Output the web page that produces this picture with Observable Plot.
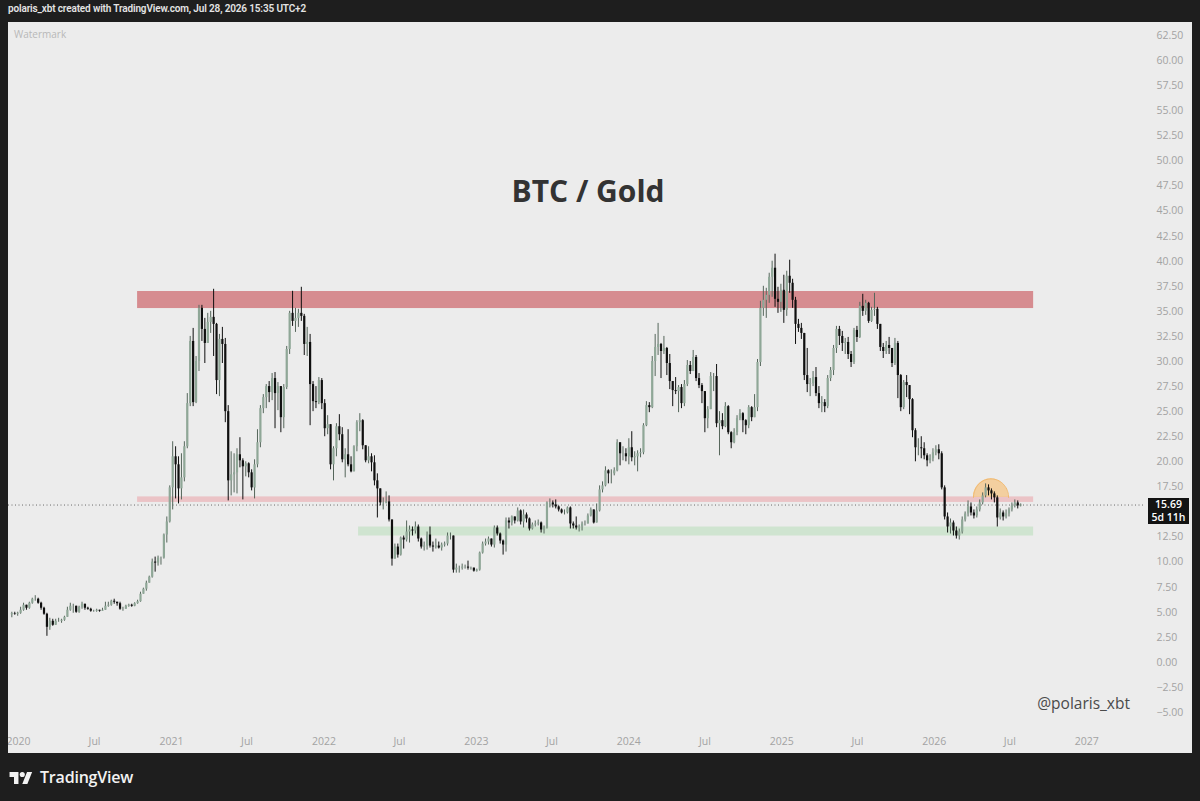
<!DOCTYPE html>
<html><head><meta charset="utf-8">
<script src="https://cdn.jsdelivr.net/npm/d3@7"></script>
<script src="https://cdn.jsdelivr.net/npm/@observablehq/plot@0.6"></script>
<style>
html,body{margin:0;padding:0;background:#1e1e1e;width:1200px;height:801px;overflow:hidden;font-family:"Open Sans",sans-serif}
#topbar{position:absolute;left:8px;top:3px;color:#e4e4e4;font:600 10px Roboto,sans-serif;letter-spacing:-0.15px;white-space:nowrap}
#pane{position:absolute;left:8px;top:22px;width:1184px;height:731px;background:#ececec;overflow:hidden}
#wm{position:absolute;left:6px;top:5px;font:10px "Open Sans",sans-serif;color:#b8b8b8}
#title{position:absolute;left:0;width:1160px;text-align:center;top:148px;font:700 30px "Open Sans",sans-serif;color:#333}
#handle{position:absolute;right:62px;top:670px;font:15.5px "Open Sans",sans-serif;color:#4a4a4a}
#price{position:absolute;left:1140px;width:41px;height:26px;background:#131313;color:#fff;text-align:center;font:600 10.5px "Open Sans",sans-serif}
#price div{height:13px;line-height:13px;white-space:nowrap}
#brand{position:absolute;left:9px;top:766px;display:flex;align-items:center;color:#f2f2f2;font:600 16px "Open Sans",sans-serif;letter-spacing:-0.2px}
#brand svg{margin-right:7px}
</style></head>
<body>
<div id="topbar">polaris_xbt created with TradingView.com, Jul 28, 2026 15:35 UTC+2</div>
<div id="pane">
  <div id="wm">Watermark</div>
  <div id="title">BTC / Gold</div>
  <div id="handle">@polaris_xbt</div>
</div>
<div id="brand"><svg width="24" height="14" viewBox="0 0 36 22"><path fill="#f2f2f2" d="M14 22H7V11H0V3h14v19zM28 22h-8l7.5-19h8L28 22z"/><circle fill="#f2f2f2" cx="20" cy="7" r="4"/></svg>TradingView</div>
<script>
// ---- data (weekly candles, BTC / Gold ratio) ----
const firstWeek = "2019-12-16";
const firstOpen = 4.75;
const closes = [
4.85,4.8,4.9,5.2,5.7,5.4,5.9,6.3,6.3,5.9,
5.4,4.8,3.5,4.1,3.7,4.1,4.1,4.2,4.5,5.2,
5.6,5.6,5.0,5.5,5.8,5.4,5.3,5.1,5.1,5.2,
5.1,5.2,5.6,5.7,6.1,6.0,5.85,5.3,5.3,5.6,
5.7,5.6,5.85,6.05,6.8,7.3,7.9,8.5,10.0,9.9,
10.4,10.4,12.7,14.0,17.4,20.5,19.7,17.3,18.4,21.5,
25.8,32.0,25.9,30.0,35.3,33.2,31.8,33.9,34.4,33.7,
28.1,32.2,31.7,25.0,18.1,18.7,18.9,20.7,20.1,19.5,
19.8,18.9,17.4,19.7,21.9,25.3,26.4,27.5,26.9,28.3,
26.8,27.5,24.4,27.4,31.2,34.8,34.0,34.3,34.8,34.5,
31.7,31.9,27.7,26.0,25.9,28.1,25.8,23.3,23.7,19.7,
21.3,23.5,22.7,20.2,20.7,19.7,19.0,21.5,23.9,24.1,
21.6,20.1,20.5,19.9,18.1,17.3,15.9,15.9,16.0,14.2,
10.3,11.5,10.7,12.4,12.2,13.0,13.2,13.1,13.5,12.3,
11.5,11.6,12.7,11.6,11.5,11.6,11.4,11.7,11.8,12.6,
12.6,9.2,9.4,9.4,9.5,9.5,9.4,9.4,9.1,9.2,
10.9,11.8,12.0,12.3,11.7,13.4,12.8,12.1,11.7,14.1,
13.9,14.5,14.1,15.1,14.0,14.7,14.3,13.3,13.7,13.8,
13.9,13.2,13.4,15.9,15.9,15.7,15.5,15.2,14.9,14.9,
15.4,13.8,13.6,13.4,13.5,13.8,13.8,14.6,15.2,13.9,
15.1,17.2,17.6,19.1,18.8,18.8,19.1,21.9,20.8,20.8,
20.5,21.4,20.4,20.5,20.8,20.9,23.6,25.6,25.4,30.0,
31.4,31.7,31.0,31.3,29.8,28.0,27.1,27.0,27.4,25.8,
27.7,29.6,29.0,30.4,28.3,27.6,27.0,24.3,25.2,28.5,
28.5,23.8,24.1,23.5,25.5,22.9,21.9,22.9,24.3,24.8,
24.1,23.6,25.4,24.4,25.4,29.9,35.3,36.1,36.6,38.4,
39.3,36.2,35.9,37.1,35.1,38.5,37.8,36.1,33.7,33.3,
32.8,28.6,27.7,27.8,28.4,26.8,25.8,25.9,25.5,28.3,
29.1,31.3,33.2,32.5,31.8,31.9,30.7,29.9,33.1,32.4,
35.5,35.0,35.8,34.0,35.1,35.2,33.7,31.4,31.0,31.6,
31.3,29.8,31.8,28.6,25.4,27.9,27.6,26.2,23.1,21.4,
21.4,21.3,20.6,20.1,20.3,20.9,21.2,20.8,17.4,14.5,
13.5,13.9,13.1,12.6,13.0,14.2,14.8,15.5,14.9,14.6,
15.2,15.9,16.6,17.4,17.1,16.8,16.4,14.4,14.9,14.5,
14.8,15.2,15.6,15.9,15.6,15.69];
const highs = [
5.0,5.0,5.0,5.5,5.9,5.7,6.0,6.4,6.65,6.4,
6.0,5.5,4.9,4.4,4.3,4.3,4.4,4.3,4.6,5.5,
5.9,5.8,5.6,5.6,6.0,5.8,5.5,5.4,5.2,5.3,
5.2,5.4,6.0,6.0,6.2,6.3,6.0,6.0,5.5,5.7,
5.8,5.8,5.95,6.2,7.0,7.4,8.1,8.6,10.3,10.5,
10.6,10.5,12.8,14.5,17.6,22.0,21.5,20.5,20.8,22.0,
26.8,32.5,33.3,30.5,35.6,35.6,34.3,34.8,35.0,37.2,
33.8,32.7,33.4,32.3,25.6,21.0,20.8,21.3,22.4,20.3,
20.0,19.9,19.2,20.2,23.2,25.6,26.7,27.7,28.0,28.8,
28.9,27.9,27.5,27.7,31.5,35.0,37.0,35.3,35.2,37.4,
34.7,33.4,32.7,28.0,27.5,28.4,28.3,26.2,24.6,23.6,
21.5,23.8,24.7,23.4,21.3,23.2,20.5,21.6,24.1,24.8,
24.2,21.6,21.5,20.8,20.6,18.8,16.9,16.4,17.0,16.6,
14.2,11.8,11.8,12.5,12.6,14.1,13.6,13.5,14.0,13.7,
12.4,12.0,13.0,13.5,12.0,12.3,12.0,11.9,12.0,12.9,
12.9,12.6,9.8,9.6,9.8,9.7,10.1,9.5,9.3,9.3,
11.0,12.0,12.3,12.5,12.3,13.6,13.6,12.9,12.2,14.4,
14.4,14.6,14.5,15.4,15.2,15.2,14.9,14.4,13.9,14.1,
14.2,14.0,13.6,16.0,16.3,16.1,16.2,15.6,15.3,15.2,
15.5,15.5,14.0,14.5,13.7,14.0,14.1,14.8,15.4,15.2,
15.8,17.6,18.0,19.5,19.2,19.2,19.4,22.2,21.9,21.5,
21.3,22.3,23.0,21.0,21.1,21.3,23.8,26.0,25.9,30.5,
32.7,33.8,31.8,32.5,31.4,30.7,28.0,28.4,27.6,27.7,
28.1,30.1,30.0,31.1,30.6,28.8,27.8,26.9,25.5,28.9,
28.8,29.7,25.0,24.8,25.9,25.6,23.0,23.3,24.6,25.2,
24.9,24.2,25.6,25.5,26.7,30.2,36.0,37.5,37.3,38.8,
40.0,40.7,37.4,37.7,38.6,39.0,40.1,38.2,36.4,34.2,
33.8,32.8,31.3,28.3,29.0,29.4,27.5,26.5,26.2,28.6,
29.4,31.6,33.5,33.5,33.0,32.3,32.4,31.0,33.3,33.5,
35.9,36.7,36.1,35.9,35.4,36.8,35.4,33.6,31.8,32.0,
32.4,31.1,32.3,32.0,28.7,28.1,28.6,27.6,26.3,23.3,
22.3,22.5,21.9,20.8,20.7,21.3,21.6,21.7,21.0,17.6,
14.9,14.3,14.1,13.5,13.3,14.5,15.0,16.1,15.9,15.2,
15.5,16.2,16.9,17.8,17.7,17.3,17.0,16.6,15.3,15.1,
15.2,15.4,15.9,16.2,16.1,15.8];
const lows = [
4.45,4.7,4.6,4.8,5.1,5.2,5.3,5.8,6.1,5.8,
5.2,4.7,2.6,3.2,3.6,3.7,4.0,3.9,4.1,4.5,
5.1,4.9,4.9,4.9,5.3,5.2,5.2,5.0,5.0,5.0,
5.0,5.1,5.2,5.5,5.6,5.8,5.6,5.2,5.1,5.3,
5.5,5.5,5.55,5.8,6.0,6.8,7.1,7.9,8.4,9.0,
9.6,9.7,10.3,11.9,13.9,15.2,16.3,15.8,16.2,18.0,
21.3,25.5,25.5,25.8,29.0,32.0,29.8,31.9,32.8,30.5,
26.7,26.5,29.8,23.9,16.1,16.6,16.9,16.8,19.4,16.2,
18.5,18.4,17.1,16.3,19.4,21.4,24.8,25.3,25.9,26.1,
23.3,25.1,22.9,23.3,27.2,30.7,33.5,32.9,33.4,34.0,
30.6,30.5,23.6,25.0,25.3,25.7,25.2,22.5,22.7,19.2,
18.1,20.5,22.1,19.9,18.4,19.5,18.9,19.1,21.0,23.0,
21.2,19.9,19.8,19.0,17.6,14.4,15.6,15.2,15.8,14.0,
9.6,10.3,10.4,10.6,11.3,12.0,11.9,12.6,12.8,12.0,
11.3,11.1,11.2,11.4,11.0,11.3,11.3,11.1,11.5,11.6,
12.2,8.9,8.9,8.9,9.2,9.3,9.2,9.2,9.0,9.0,
9.1,10.8,11.6,11.7,11.5,11.4,12.6,11.8,10.7,11.0,
13.3,13.6,13.8,14.0,13.7,13.4,13.9,13.1,13.2,13.5,
13.6,12.9,12.8,13.3,15.4,15.4,15.3,15.0,14.8,14.7,
14.8,13.3,13.3,13.2,13.0,13.1,13.6,13.8,14.5,13.8,
13.9,15.0,16.9,17.5,17.8,17.8,18.6,19.0,19.6,20.1,
20.0,19.7,20.0,19.6,19.0,20.4,20.7,23.5,24.9,25.3,
28.5,30.6,28.3,30.7,28.6,27.2,25.5,26.7,24.9,25.3,
25.5,27.5,28.7,29.0,28.0,27.3,25.8,22.9,23.3,25.2,
27.0,23.4,20.6,23.2,23.4,22.7,21.3,21.8,22.6,24.1,
22.9,22.7,23.3,24.0,24.9,25.0,29.5,34.5,34.3,35.8,
36.4,35.4,34.8,34.9,33.8,34.5,36.8,35.3,31.7,32.9,
32.2,28.1,26.9,26.5,27.5,26.5,25.3,24.9,24.9,25.3,
28.0,28.6,30.8,31.6,31.0,30.7,30.2,29.4,29.7,31.9,
32.3,34.5,34.6,33.8,33.9,34.5,33.2,31.0,30.3,30.7,
30.7,29.4,29.6,26.3,25.0,25.2,26.4,24.7,22.4,20.0,
20.6,20.3,20.2,19.5,19.8,20.0,20.6,20.2,17.2,14.2,
12.9,12.8,12.6,12.3,12.2,12.8,14.0,14.5,14.6,14.3,
14.4,15.0,15.7,16.4,16.6,16.2,15.9,13.5,14.2,14.1,
14.3,14.5,15.0,15.4,15.3,15.5];

// zones drawn on the chart
const zoneStart = ["2020-10-12","2020-10-12","2022-03-25"];
const zoneEnd   = ["2026-08-27","2026-08-27","2026-08-27"];
const zoneLow   = [35.28, 15.95, 12.6];
const zoneHigh  = [36.98, 16.5, 13.5];
const zoneColor = ["#d68c90","#ebc3c6","#cfe4d0"];
// highlight arc (center date, half-width in days, base, top)
const arcCenter = "2026-05-17", arcHalfDays = 42, arcBase = 16.45, arcTop = 18.3;

// price-scale ticks (15.00 is hidden behind the last-price label)
const yTicks = [-5,-2.5,0,2.5,5,7.5,10,12.5,17.5,20,22.5,25,27.5,30,32.5,35,37.5,40,42.5,45,47.5,50,52.5,55,57.5,60,62.5];
const xTickDates = ["2020-01-01","2020-07-01","2021-01-01","2021-07-01","2022-01-01","2022-07-01","2023-01-01","2023-07-01","2024-01-01","2024-07-01","2025-01-01","2025-07-01","2026-01-01","2026-07-01","2027-01-01"];
const lastLabel = "5d 11h";

// ---- build ----
const t0 = new Date(firstWeek + "T00:00:00Z");
const candles = closes.map((c, i) => {
  const o = i === 0 ? firstOpen : closes[i - 1];
  return {date: d3.utcWeek.offset(t0, i), open: o, close: c,
    high: Math.max(highs[i], o, c), low: Math.min(lows[i], o, c), up: c >= o};
});
const zones = zoneStart.map((s, i) => ({x1: new Date(s), x2: new Date(zoneEnd[i]), y1: zoneLow[i], y2: zoneHigh[i], fill: zoneColor[i]}));
const ac = new Date(arcCenter + "T00:00:00Z");
const arc = d3.range(0, 41).map(k => {
  const t = Math.PI * k / 40;
  return {x: new Date(ac.getTime() - arcHalfDays * 86400000 * Math.cos(t)), y: arcBase + (arcTop - arcBase) * Math.sin(t)};
});

const last = closes[closes.length - 1];
const upBody = "#8fa797", upWick = "#55665b", dn = "#0f0f0f";

const chart = Plot.plot({
  width: 1184, height: 731,
  marginLeft: 0, marginRight: 49, marginTop: 0, marginBottom: 23,
  style: {background: "transparent", fontFamily: "'Open Sans', sans-serif", fontSize: "10px", overflow: "visible"},
  x: {type: "utc", domain: [new Date("2019-12-08"), new Date("2027-05-17")]},
  y: {domain: [-6.79, 63.8]},
  marks: [
    Plot.rect(zones, {x1: "x1", x2: "x2", y1: "y1", y2: "y2", fill: "fill"}),
    Plot.areaY(arc, {x: "x", y1: arcBase, y2: "y", fill: "#f6c585", fillOpacity: 0.75, curve: "linear"}),
    Plot.line(arc, {x: "x", y: "y", stroke: "#f1b86c", strokeWidth: 1}),
    Plot.ruleY([last], {stroke: "#6a6a6a", strokeDasharray: "1,2.5", strokeWidth: 1}),
    Plot.ruleX(candles, {x: "date", y1: "low", y2: "high", stroke: d => d.up ? upWick : dn, strokeWidth: 1}),
    Plot.ruleX(candles, {x: "date", y1: "open", y2: "close", stroke: d => d.up ? upBody : dn, strokeWidth: 2.2}),
    Plot.axisX({ticks: xTickDates.map(s => new Date(s)), tickFormat: d => d.getUTCMonth() === 0 ? String(d.getUTCFullYear()) : "Jul", tickSize: 0, tickPadding: 7, fill: "#a3a3a3", fontSize: 10.5}),
    Plot.axisY({anchor: "right", ticks: yTicks, tickFormat: d3.format(".2f"), tickSize: 0, tickPadding: 13, fill: "#a3a3a3", fontSize: 10.5})
  ]
});
chart.style.position = "absolute";
chart.style.left = "0px";
chart.style.top = "0px";
document.getElementById("pane").appendChild(chart);

const py = chart.scale("y").apply(last);
const box = document.createElement("div");
box.id = "price";
box.style.top = (py - 7) + "px";
const l1 = document.createElement("div"); l1.textContent = d3.format(".2f")(last);
const l2 = document.createElement("div"); l2.textContent = lastLabel;
box.appendChild(l1); box.appendChild(l2);
document.getElementById("pane").appendChild(box);
</script>
</body></html>
